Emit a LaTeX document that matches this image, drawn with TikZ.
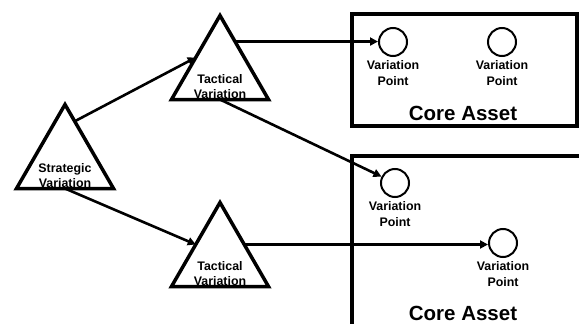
\documentclass[tikz,border=0pt]{standalone}
\usepackage{fontspec}
\setmainfont{Liberation Sans}
\usetikzlibrary{shapes.geometric,arrows.meta,calc}
\begin{document}
\begin{tikzpicture}[x=1pt,y=-1pt,
  tri/.style={regular polygon, regular polygon sides=3, draw, line width=3.5pt, minimum size=112pt, inner sep=0pt, outer sep=0pt},
  trilbl/.style={align=center, inner sep=0pt, font=\fontsize{12.4}{15.5}\selectfont\bfseries},
  vp/.style={circle, draw, line width=2pt, minimum size=28pt, inner sep=0pt},
  vplbl/.style={align=center, inner sep=0pt, anchor=north, font=\fontsize{12.4}{16}\selectfont\bfseries},
  asset/.style={rectangle, draw, line width=4pt, inner sep=0pt},
  assetlbl/.style={inner sep=0pt, font=\fontsize{20.5}{24}\selectfont\bfseries},
  arr/.style={line width=2.6pt, -{Triangle[length=8pt,width=8pt]}}]
\useasboundingbox (0,0) rectangle (579,324);
\fill[white] (0,0) rectangle (579,324);
\clip (0,0) rectangle (579,324);

% core asset boxes
\node[asset, minimum width=224.5pt, minimum height=112.6pt] (box1) at (464.25,70) {};
\node[asset, minimum width=250pt, minimum height=220pt] (box2) at (477,266) {};
\node[assetlbl] (ca1) at (463,113) {Core Asset};
\node[assetlbl] (ca2) at (463,313) {Core Asset};

% variation points
\node[vp] (v1) at (393,42) {};
\node[vp] (v2) at (502,42) {};
\node[vp] (v3) at (395,183) {};
\node[vp] (v4) at (503,243) {};
\node[vplbl] (v1l) at ($(v1.south)+(0,3.5)$) {Variation\\Point};
\node[vplbl] (v2l) at ($(v2.south)+(0,3.5)$) {Variation\\Point};
\node[vplbl] (v3l) at ($(v3.south)+(0,3.5)$) {Variation\\Point};
\node[vplbl] (v4l) at ($(v4.south)+(0,3.5)$) {Variation\\Point};

% triangles
\node[tri] (s) at (65,160.5) {};
\node[tri] (t1) at (220,71.5) {};
\node[tri] (t2) at (220,258.5) {};
\node[trilbl] (sl) at ($(s.center)+(0,15)$) {Strategic\\Variation};
\node[trilbl] (t1l) at ($(t1.center)+(0,15)$) {Tactical\\Variation};
\node[trilbl] (t2l) at ($(t2.center)+(0,15)$) {Tactical\\Variation};

% connectors
\coordinate (sa) at ($(s.corner 1)!0.2!(s.corner 3)$);
\draw[arr] (sa) -- (t1.side 1);
\draw[arr] (s.side 2) -- (t2.side 1);
\coordinate (t1a) at ($(t1.corner 1)!0.31!(t1.corner 3)$);
\draw[arr] (t1a) -- (t1a -| v1.west);
\draw[arr] (t1.side 2) -- (v3);
\draw[arr] (t2.side 3) -- (t2.side 3 -| v4.west);
\end{tikzpicture}
\end{document}
